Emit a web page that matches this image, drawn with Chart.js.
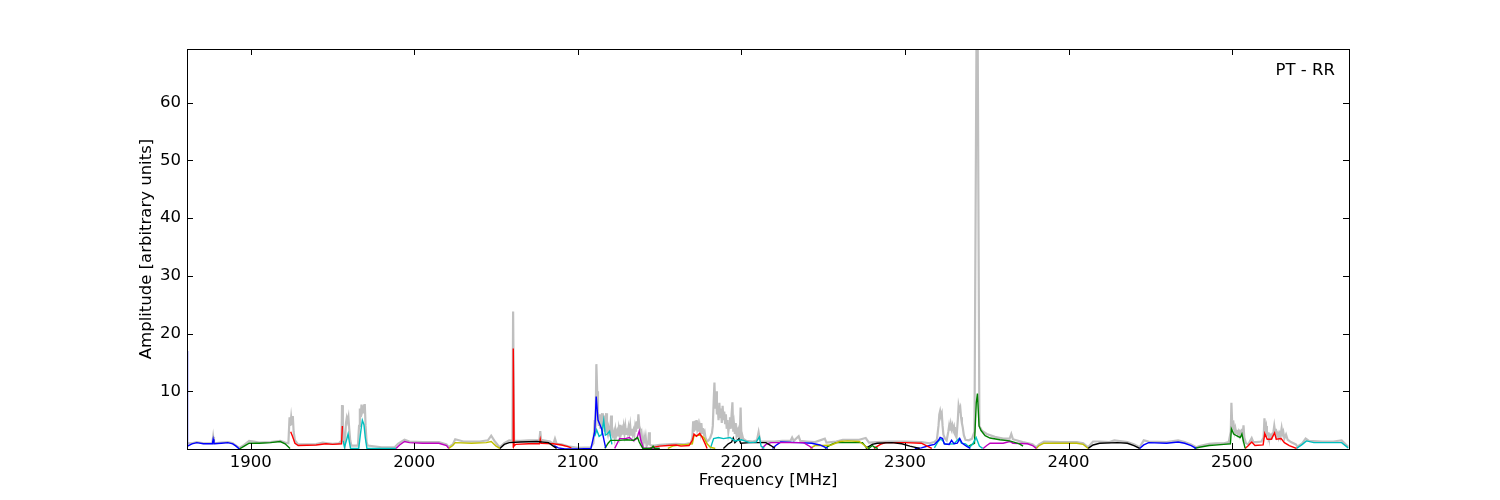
<!DOCTYPE html>
<html>
<head>
<meta charset="utf-8">
<title>PT - RR spectrum</title>
<script src="https://cdn.jsdelivr.net/npm/chart.js@4/dist/chart.umd.min.js"></script>
<style>
    html, body { margin: 0; padding: 0; background: #ffffff; }
    #spectrum { display: block; }
</style>
</head>
<body>
<canvas id="spectrum" width="1500" height="500"></canvas>
<script>
// Amplitude spectrum, PT - RR

const freqTicks = [1900, 2000, 2100, 2200, 2300, 2400, 2500];
const ampTicks = [10, 20, 30, 40, 50, 60];
const panelLabel = 'PT - RR';
const xTitle = 'Frequency [MHz]';
const yTitle = 'Amplitude [arbitrary units]';

// full spectrum (grey, drawn underneath), [MHz, amplitude]
const greySpectrum = [
    [1861, 1.0], [1864, 1.0], [1867, 1.2], [1871, 1.0], [1876.5, 1.0], [1877, 2.1], [1877.5, 1.0], [1882, 1.1],
    [1886, 1.2], [1889, 1.0], [1891, 0.6], [1893, 0.2], [1896, 0.7], [1899, 1.4], [1902, 1.3], [1905, 1.1],
    [1912, 1.2], [1918, 1.4], [1921, 1.1], [1923, 1.0], [1923.7, 5.5], [1924.2, 4.0], [1924.7, 5.5], [1925.2, 4.2],
    [1925.7, 5.7], [1926.2, 3.0], [1927, 1.5], [1929, 0.8], [1940, 0.85], [1944, 1.1], [1947, 1.0], [1950, 0.9],
    [1954, 1.0], [1955.5, 1.5], [1955.8, 7.6], [1956.3, 4.0], [1956.8, 1.5], [1957.5, 0.8], [1958.2, 4.5],
    [1958.7, 5.4], [1959.2, 4.8], [1959.7, 5.5], [1960.2, 3.5], [1960.8, 1.5], [1961.5, 0.6], [1965.5, 0.6],
    [1966.2, 4.0], [1966.7, 7.0], [1967.2, 5.5], [1967.7, 7.7], [1968.2, 6.5], [1968.7, 7.0], [1969.2, 6.2],
    [1969.7, 7.8], [1970.2, 4.0], [1970.8, 1.2], [1971.5, 0.6], [1980, 0.3], [1988, 0.3], [1990, 0.9],
    [1994, 1.6], [1997, 1.3], [2005, 1.2], [2015, 1.2], [2019.7, 0.8], [2021, 0.3], [2023.5, 0.8], [2025, 1.7],
    [2030, 1.3], [2040, 1.3], [2045, 1.5], [2047, 2.3], [2049, 1.4], [2051, 0.7], [2052.3, 0.3], [2055, 1.0],
    [2058, 1.5], [2060, 1.4], [2060.4, 23.8], [2061, 1.4], [2065, 1.4], [2070, 1.5], [2076.5, 1.5], [2077, 3.1],
    [2077.5, 1.6], [2083, 1.3], [2085, 0.9], [2086, 1.8], [2087, 0.9], [2090, 0.8], [2095, 0.4], [2100, 0.2],
    [2108, 0.3], [2109.5, 1.0], [2110.3, 5.0], [2110.8, 3.0], [2111.3, 14.7], [2111.8, 10.0], [2112.3, 5.5],
    [2112.8, 4.0], [2113.3, 6.0], [2113.8, 3.5], [2114.3, 5.0], [2114.8, 6.2], [2115.3, 4.0], [2115.8, 5.8],
    [2116.3, 3.0], [2116.8, 4.5], [2117.3, 6.2], [2117.8, 3.0], [2118.3, 2.5], [2118.8, 3.6], [2119.3, 2.8],
    [2119.8, 3.2], [2120.3, 5.8], [2120.8, 2.5], [2121.3, 2.2], [2122, 3.0], [2122.5, 2.0], [2123, 3.3],
    [2123.5, 2.4], [2124, 3.0], [2124.5, 2.2], [2125, 3.5], [2125.5, 2.5], [2126, 4.2], [2126.5, 2.8],
    [2127, 3.4], [2127.5, 2.5], [2128, 3.8], [2128.5, 2.7], [2129, 3.9], [2129.5, 2.6], [2130, 3.6],
    [2130.5, 2.9], [2131, 3.8], [2131.5, 2.8], [2132, 4.0], [2132.5, 2.5], [2133, 3.5], [2133.5, 2.6],
    [2134, 3.2], [2134.5, 2.4], [2135, 3.8], [2135.5, 3.0], [2136, 4.8], [2136.5, 3.5], [2137, 6.0],
    [2137.5, 4.0], [2138, 3.5], [2138.5, 2.0], [2139, 2.6], [2139.5, 1.2], [2140, 0.8], [2140.5, 2.0],
    [2141, 1.0], [2141.5, 2.0], [2142, 0.5], [2143, 1.0], [2143.5, 2.9], [2144, 0.8], [2145, 0.6], [2147, 0.6],
    [2150, 0.7], [2155, 0.8], [2160, 0.9], [2165, 0.8], [2168, 1.0], [2169, 1.0], [2170, 2.0], [2170.5, 4.8],
    [2171, 3.0], [2171.5, 4.9], [2172, 3.2], [2172.5, 5.0], [2173, 3.5], [2173.5, 4.2], [2174, 3.0], [2174.5, 4.0],
    [2175, 3.0], [2175.5, 4.5], [2176, 2.8], [2176.5, 3.6], [2177, 2.7], [2177.5, 3.0], [2178, 2.0], [2179, 1.3],
    [2180, 1.5], [2181, 2.0], [2182, 2.8], [2182.5, 4.0], [2183, 8.0], [2183.5, 11.5], [2184, 7.0], [2184.5, 10.0],
    [2185, 6.0], [2185.5, 7.5], [2186, 5.0], [2186.5, 8.0], [2187, 5.5], [2187.5, 7.0], [2188, 4.5], [2188.5, 7.5],
    [2189, 5.0], [2189.5, 6.5], [2190, 4.5], [2190.5, 6.0], [2191, 3.5], [2191.5, 5.0], [2192, 3.0], [2192.5, 4.0],
    [2193, 5.5], [2193.5, 3.5], [2194, 6.0], [2194.5, 8.1], [2195, 3.0], [2195.5, 4.2], [2196, 2.6], [2196.5, 4.5],
    [2197, 2.4], [2197.5, 3.0], [2198, 2.2], [2198.5, 3.0], [2199, 2.5], [2199.5, 7.2], [2200, 2.0], [2200.5, 2.4],
    [2201, 1.8], [2203, 1.4], [2207, 1.3], [2209.5, 1.5], [2210.5, 2.9], [2211.5, 1.3], [2215, 1.3], [2220, 1.3],
    [2225, 1.4], [2230, 1.4], [2231, 2.0], [2232, 1.4], [2235, 2.2], [2236, 1.4], [2240, 1.3], [2245, 1.2],
    [2251, 1.8], [2252, 1.1], [2258, 1.3], [2262, 1.6], [2268, 1.6], [2272, 1.6], [2276, 1.9], [2278, 1.1],
    [2283, 1.2], [2290, 1.3], [2300, 1.3], [2310, 1.2], [2315, 1.0], [2318, 1.2], [2319.5, 1.6], [2320.5, 4.0],
    [2321, 6.0], [2321.5, 6.6], [2322, 5.8], [2322.5, 6.2], [2323, 4.0], [2323.5, 2.5], [2324.5, 1.8],
    [2325.5, 1.5], [2326.5, 3.0], [2327, 4.0], [2327.5, 3.2], [2328, 4.3], [2328.5, 3.5], [2329, 4.1],
    [2329.5, 3.3], [2330, 3.8], [2330.5, 2.6], [2331.5, 2.0], [2332.3, 5.0], [2332.8, 7.5], [2333.3, 6.8],
    [2333.8, 7.2], [2334.3, 5.5], [2334.8, 4.5], [2335.3, 3.8], [2336, 2.4], [2337, 1.6], [2339, 1.5],
    [2341, 1.8], [2342.5, 3.0], [2343.7, 69.3], [2344.5, 69.3], [2345.5, 4.0], [2347, 3.2], [2350, 2.6],
    [2355, 2.1], [2360, 1.8], [2364, 1.8], [2365, 2.6], [2366, 1.7], [2372, 1.2], [2378, 0.8], [2380.3, 0.3],
    [2382, 0.8], [2385, 1.3], [2395, 1.2], [2405, 1.2], [2409, 1.0], [2412, 0.3], [2415, 1.3], [2419, 1.3],
    [2425, 1.2], [2428, 1.5], [2436, 1.2], [2440, 0.8], [2443.5, 0.3], [2446, 1.5], [2449, 1.3], [2460, 1.2],
    [2467, 1.5], [2471, 1.2], [2475, 0.8], [2478, 0.3], [2480, 0.5], [2486, 0.9], [2490, 1.0], [2495, 1.0],
    [2498, 1.2], [2499.2, 3.0], [2499.6, 8.0], [2500, 5.0], [2500.5, 3.8], [2501, 4.2], [2501.5, 3.0],
    [2502, 3.6], [2502.5, 2.8], [2503, 3.3], [2503.5, 2.6], [2504, 3.0], [2504.5, 2.4], [2505, 3.0],
    [2505.5, 2.8], [2506, 3.5], [2506.5, 2.5], [2507, 4.1], [2507.5, 2.0], [2508.5, 1.0], [2510, 0.8],
    [2511, 1.4], [2512, 1.9], [2513, 1.2], [2515, 1.2], [2518, 1.3], [2519.3, 2.0], [2519.8, 5.3], [2520.3, 3.5],
    [2520.8, 4.0], [2521.3, 2.4], [2522, 2.6], [2522.5, 2.0], [2523, 2.4], [2523.5, 2.0], [2524, 2.4],
    [2524.5, 2.1], [2525.3, 3.0], [2525.8, 4.0], [2526.3, 3.0], [2526.8, 3.5], [2527.3, 2.2], [2528, 2.7],
    [2528.5, 2.0], [2529, 2.6], [2529.5, 2.1], [2530.3, 3.6], [2530.8, 2.6], [2531.3, 3.0], [2532, 1.8],
    [2533, 2.5], [2534, 1.6], [2536, 1.2], [2539, 0.8], [2540, 0.4], [2543, 1.0], [2545, 1.8], [2547, 1.4],
    [2555, 1.3], [2562, 1.3], [2567, 1.5], [2571, 0.4],
];

// sub-band spectra, [MHz, amplitude]
const band01 = [[1861, 17.0], [1861.3, 0.5], [1864, 0.9], [1867, 1.1], [1871, 0.9], [1876.5, 0.9], [1877, 1.7], [1877.5, 0.9], [1882, 1.0], [1886, 1.1], [1889, 0.9], [1891, 0.5], [1893, 0.0]];
const band02 = [[1893, 0.0], [1896, 0.5], [1899, 1.0], [1905, 1.0], [1912, 1.1], [1918, 1.3], [1921, 0.9], [1924, 0.1]];
const band03 = [[1924.4, 3.0], [1925.5, 2.2], [1927, 1.0], [1929, 0.6], [1940, 0.7], [1946, 0.9], [1950, 0.8], [1955.5, 0.9], [1956, 4.0]];
const band04 = [[1956.5, 1.4], [1957.3, 0.3], [1958.5, 1.5], [1959.5, 2.6], [1960.3, 1.2], [1961, 0.1], [1966, 0.1], [1967, 2.5], [1968.2, 5.0], [1969.2, 4.2], [1970, 2.0], [1971, 0.1], [1980, 0.1], [1988.8, 0.1]];
const band05 = [[1988.8, 0.1], [1991, 0.7], [1994, 1.3], [1997, 1.1], [2005, 1.0], [2015, 1.0], [2019.7, 0.6], [2021, 0.1]];
const band06 = [[2021, 0.1], [2023.5, 0.6], [2025, 1.1], [2035, 1.0], [2044, 1.1], [2047, 1.3], [2050, 0.5], [2052.3, 0.1]];
const band07 = [[2052.3, 0.1], [2055, 0.8], [2058, 1.1], [2065, 1.2], [2075, 1.3], [2082, 1.1], [2085, 0.5], [2087, 0.1]];
const band08 = [[2060.4, 0.2], [2060.5, 17.4], [2061, 0.5], [2062, 0.8], [2070, 0.9], [2076.5, 0.9], [2077, 1.7], [2077.5, 1.0], [2085, 0.9], [2090, 0.7], [2094, 0.4], [2096, 0.2]];
const band09 = [[2085.5, 0.6], [2088, 0.2], [2092, 0.0], [2100, 0.0], [2108, 0.1], [2110.3, 3.0], [2111.2, 9.1], [2112.3, 5.0], [2113.5, 4.2], [2114.5, 3.5], [2116, 1.5], [2117, 0.2]];
const band10 = [[2116.5, 0.1], [2118.5, 1.0], [2120, 1.5], [2125, 1.5], [2130, 1.6], [2134, 1.5], [2136.5, 2.0], [2137.5, 1.2], [2139.7, 0.1], [2145, 0.1], [2146, 0.5], [2147, 0.1], [2150, 0.1]];
const band11 = [[2110.3, 2.2], [2111.5, 3.3], [2113, 2.2], [2114.5, 2.5], [2115.8, 5.0], [2116.8, 2.4], [2118, 2.6], [2119.4, 3.1], [2120.8, 0.8]];
const band12 = [[2122.5, 0.1], [2125.5, 1.8], [2129, 1.8], [2131.5, 2.0], [2134, 1.4], [2136, 1.8], [2137.5, 3.1], [2138.5, 1.5], [2140, 0.2], [2150, 0.1]];
const band13 = [[2144, 0.2], [2150, 0.5], [2155, 0.6], [2160, 0.7], [2163, 0.5], [2168, 0.6], [2170, 1.5], [2171, 2.6], [2172.5, 2.2], [2174.5, 2.7], [2176, 2.0], [2178, 0.8], [2179, 0.1]];
const band14 = [[2155, 0.1], [2158, 0.5], [2162, 0.7], [2167, 0.8], [2170, 0.9], [2171, 2.3], [2175, 2.4], [2177, 2.0], [2179, 0.9], [2181, 0.3], [2184, 0.1]];
const band15 = [[2181, 0.1], [2183, 1.8], [2186, 2.0], [2189, 1.8], [2193, 2.0], [2196, 1.4], [2200, 1.6], [2205, 1.1], [2209, 1.2], [2211, 2.1], [2212, 0.5], [2214, 0.1]];
const band16 = [[2189, 0.1], [2192, 0.9], [2194, 1.2], [2195, 1.9], [2196, 1.1], [2198.5, 1.8], [2199.5, 1.0], [2205, 1.1], [2215, 1.1], [2218, 0.6], [2220.5, 0.1]];
const band17 = [[2212.5, 0.1], [2215, 0.8], [2218, 1.1], [2230, 1.1], [2238, 1.1], [2241, 0.6], [2243.5, 0.1]];
const band18 = [[2219, 0.1], [2221, 0.6], [2224, 1.2], [2235, 1.1], [2243, 1.0], [2248, 0.7], [2252.8, 0.1]];
const band19 = [[2242, 0.1], [2245, 0.6], [2250, 0.6], [2255, 0.7], [2260, 1.3], [2265, 1.4], [2272, 1.3], [2275, 0.7], [2277.3, 0.1]];
const band20 = [[2251, 0.1], [2255, 0.8], [2258, 1.1], [2265, 1.1], [2274, 1.1], [2276, 0.4], [2278, 0.1], [2280, 0.6], [2281.5, 0.3], [2283.4, 0.1]];
const band21 = [[2276, 0.1], [2280, 0.8], [2283, 1.0], [2292, 1.1], [2298, 0.9], [2303, 0.5], [2309, 0.1]];
const band22 = [[2281, 0.1], [2285, 0.8], [2288, 1.1], [2300, 1.1], [2310, 1.0], [2313, 0.6], [2316.4, 0.1]];
const band23 = [[2306, 0.1], [2310, 0.2], [2315, 0.6], [2318, 0.8], [2320.5, 1.5], [2321.5, 2.0], [2323, 1.8], [2324, 0.9], [2327, 0.8], [2328.5, 1.5], [2330, 0.9], [2332, 1.0], [2333.5, 1.8], [2335, 1.0], [2338, 0.4], [2340, 0.1]];
const band24 = [[2318, 0.2], [2320, 1.2], [2321.5, 1.7], [2323, 1.5], [2324.5, 0.8], [2330, 0.9], [2333, 1.8], [2334.5, 1.0], [2337, 0.9], [2339.5, 0.3], [2341.5, 0.9], [2343.5, 2.0], [2345.5, 0.5], [2347.5, 0.1]];
const band25 = [[2339, 0.5], [2342.5, 1.0], [2343.6, 8.0], [2344.3, 9.6], [2345.3, 4.0], [2346.5, 3.2], [2349, 2.3], [2352, 1.9], [2358, 1.6], [2364, 1.4], [2370, 0.9], [2372.2, 0.5]];
const band26 = [[2347.8, 0.1], [2350, 0.6], [2352, 1.0], [2360, 1.0], [2364, 1.3], [2366, 1.0], [2375, 0.9], [2378, 0.6], [2380.3, 0.1]];
const band27 = [[2380.3, 0.1], [2382, 0.6], [2385, 1.0], [2395, 1.0], [2405, 1.0], [2409, 0.8], [2412, 0.1]];
const band28 = [[2412, 0.1], [2415, 0.7], [2419, 1.0], [2430, 1.1], [2436, 1.0], [2440, 0.6], [2443.5, 0.1]];
const band29 = [[2443.5, 0.1], [2446, 0.7], [2449, 1.1], [2460, 1.0], [2467, 1.2], [2471, 1.0], [2475, 0.6], [2478, 0.1]];
const band30 = [[2477, 0.1], [2480, 0.3], [2486, 0.6], [2495, 0.8], [2499, 0.9], [2499.6, 3.5], [2501, 2.6], [2503.5, 2.2], [2505, 2.0], [2506, 2.6], [2507, 1.3], [2508, 0.1]];
const band31 = [[2508, 0.1], [2510, 0.6], [2512, 1.2], [2514, 0.6], [2519, 0.7], [2520, 2.7], [2521.5, 1.7], [2524, 1.7], [2526, 2.8], [2527, 1.7], [2530, 1.8], [2532, 1.1], [2535, 0.6], [2539.4, 0.1]];
const band32 = [[2539.4, 0.1], [2543, 0.8], [2545.5, 1.4], [2550, 1.1], [2560, 1.1], [2567, 1.1], [2571, 0.2]];

const bands = [band01, band02, band03, band04, band05, band06, band07, band08, band09, band10, band11,
    band12, band13, band14, band15, band16, band17, band18, band19, band20, band21, band22, band23,
    band24, band25, band26, band27, band28, band29, band30, band31, band32];
const bandColors = ['#0000ff', '#008000', '#ff0000', '#00bfbf', '#bf00bf', '#bfbf00', '#000000', '#ff0000',
    '#0000ff', '#008000', '#00bfbf', '#bf00bf', '#ff0000', '#bfbf00', '#00bfbf', '#000000', '#bf00bf',
    '#0000ff', '#bfbf00', '#008000', '#000000', '#ff0000', '#0000ff', '#00bfbf', '#008000', '#bf00bf',
    '#bfbf00', '#000000', '#0000ff', '#008000', '#ff0000', '#00bfbf'];

const FONT = 'DejaVu Sans';

function toPoints(pairs) {
    return pairs.map(([x, y]) => ({ x, y }));
}

// matplotlib style frame with inward ticks + corner label
const framePlugin = {
    id: 'frame',
    afterDraw(chart) {
        const { ctx, chartArea: a, scales } = chart;
        const len = 6;
        ctx.save();
        ctx.strokeStyle = '#000000';
        ctx.lineWidth = 1;
        ctx.beginPath();
        freqTicks.forEach(v => {
            const px = Math.round(scales.x.getPixelForValue(v)) + 0.5;
            ctx.moveTo(px, a.bottom); ctx.lineTo(px, a.bottom - len);
            ctx.moveTo(px, a.top); ctx.lineTo(px, a.top + len);
        });
        ampTicks.forEach(v => {
            const py = Math.round(scales.y.getPixelForValue(v)) + 0.5;
            ctx.moveTo(a.left, py); ctx.lineTo(a.left + len, py);
            ctx.moveTo(a.right, py); ctx.lineTo(a.right - len, py);
        });
        ctx.stroke();
        ctx.strokeRect(a.left + 0.5, a.top + 0.5, a.right - a.left, a.bottom - a.top);

        ctx.fillStyle = '#000000';
        ctx.font = `16.5px "${FONT}"`;
        ctx.textAlign = 'right';
        ctx.textBaseline = 'middle';
        ctx.fillText(panelLabel, a.right - 14, a.top + 22);
        ctx.restore();
    },
};

const datasets = bands.map((band, i) => ({
    data: toPoints(band),
    borderColor: bandColors[i],
    borderWidth: 1.4,
    pointRadius: 0,
    tension: 0,
    order: 0,
}));
datasets.push({
    data: toPoints(greySpectrum),
    borderColor: '#bfbfbf',
    borderWidth: 2.2,
    pointRadius: 0,
    tension: 0,
    order: 10,
});

new Chart(document.getElementById('spectrum'), {
    type: 'line',
    data: { datasets },
    options: {
        responsive: false,
        animation: false,
        devicePixelRatio: 1,
        layout: { padding: { left: 120, right: 151, top: 49, bottom: 0 } },
        plugins: {
            legend: { display: false },
            tooltip: { enabled: false },
        },
        scales: {
            x: {
                type: 'linear',
                min: 1861,
                max: 2571.5,
                grid: { display: false, drawTicks: false },
                border: { display: false },
                afterBuildTicks: (scale) => { scale.ticks = freqTicks.map(v => ({ value: v })); },
                afterFit: (scale) => { scale.height = 51; },
                ticks: {
                    color: '#000000',
                    padding: 4,
                    maxRotation: 0,
                    font: { family: FONT, size: 16.5, lineHeight: 1.2 },
                    callback: (v) => String(v),
                },
                title: {
                    display: true,
                    text: xTitle,
                    color: '#000000',
                    padding: { top: 0, bottom: 9 },
                    font: { family: FONT, size: 16.5, lineHeight: 1.2 },
                },
            },
            y: {
                type: 'linear',
                min: 0,
                max: 69.3,
                grid: { display: false, drawTicks: false },
                border: { display: false },
                afterBuildTicks: (scale) => { scale.ticks = ampTicks.map(v => ({ value: v })); },
                afterFit: (scale) => { scale.width = 67; },
                ticks: {
                    color: '#000000',
                    padding: 6,
                    font: { family: FONT, size: 16.5, lineHeight: 1.2 },
                    callback: (v) => String(v),
                },
                title: {
                    display: true,
                    text: yTitle,
                    color: '#000000',
                    padding: { top: 17, bottom: 0 },
                    font: { family: FONT, size: 16.5, lineHeight: 1.2 },
                },
            },
        },
    },
    plugins: [framePlugin],
});
</script>
</body>
</html>
